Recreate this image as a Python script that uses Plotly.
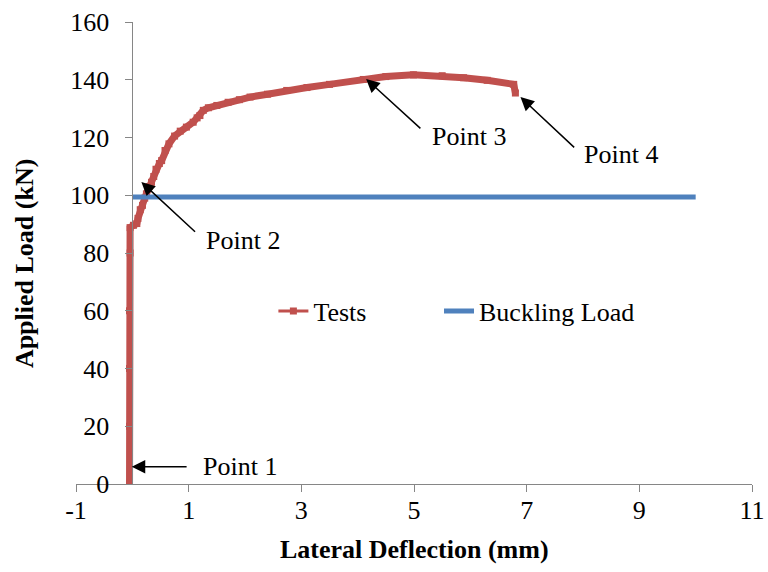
import plotly.graph_objects as go

# ---- data ----
test_x = [-0.05, -0.05, -0.05, -0.05, -0.04, -0.04, 0.02, 0.08, 0.10, 0.14, 0.18, 0.22,
          0.25, 0.30, 0.34, 0.38, 0.42, 0.48, 0.52, 0.58, 0.65, 0.75, 0.85, 0.96, 1.08,
          1.15, 1.20, 1.26, 1.35, 1.50, 1.70, 1.90, 2.09, 2.40, 2.74, 3.10, 3.50, 4.10,
          4.50, 4.99, 5.50, 5.88, 6.30, 6.77, 6.80]
test_y = [0, 20, 40, 60, 80, 88.8, 89.6, 90.2, 92.0, 95.0, 96.5, 99.0,
          100.5, 103.0, 104.5, 106.5, 109.0, 111.0, 112.0, 115.5, 117.8, 120.5, 122.2, 123.6, 125.3,
          126.8, 127.6, 129.4, 130.3, 131.1, 132.2, 133.1, 134.0, 135.0, 136.3, 137.3, 138.4, 140.1,
          141.1, 141.7, 141.4, 140.7, 139.8, 138.4, 135.4]

buck_x = [0, 10]
buck_y = [99.4, 99.4]

x_ticks = [-1, 1, 3, 5, 7, 9, 11]
x_tick_text = ["-1", "1", "3", "5", "7", "9", "11"]
y_ticks = [0, 20, 40, 60, 80, 100, 120, 140, 160]

# annotations: (label, tip_x, tip_y, tail_x, tail_y, text_x, text_y)
points = [
    ("Point 1", -0.01, 6.0, 0.99, 6.0, 1.21, 6.2),
    ("Point 2", 0.16, 104.6, 1.14, 86.9, 1.28, 84.4),
    ("Point 3", 4.15, 140.3, 5.14, 122.7, 5.28, 120.4),
    ("Point 4", 6.89, 134.0, 7.87, 116.1, 7.99, 114.1),
]

RED = "#C0504D"
BLUE = "#4F81BD"
AXC = "#868686"
FONT = "Times New Roman, Liberation Serif, serif"
FS = 26

fig = go.Figure()
# legend-only entry for Tests
fig.add_trace(go.Scatter(x=[None], y=[None], name="Tests", mode="lines+markers",
                         legend="legend",
                         line=dict(color=RED, width=3),
                         marker=dict(symbol="square", size=7, color=RED)))
fig.add_trace(go.Scatter(x=test_x, y=test_y, name="Tests", mode="lines+markers",
                         showlegend=False,
                         line=dict(color=RED, width=7),
                         marker=dict(symbol="square", size=7, color=RED)))
fig.add_trace(go.Scatter(x=buck_x, y=buck_y, name="Buckling Load", mode="lines",
                         legend="legend2",
                         line=dict(color=BLUE, width=5)))

ann = []
for lab, tx, ty, ax, ay, lx, ly in points:
    ann.append(dict(x=tx, y=ty, ax=ax, ay=ay, xref="x", yref="y", axref="x", ayref="y",
                    text="", showarrow=True, arrowhead=2, arrowsize=1.8, arrowwidth=1.5,
                    arrowcolor="black"))
    ann.append(dict(x=lx, y=ly, xref="x", yref="y", text=lab, showarrow=False,
                    xanchor="left", yanchor="middle",
                    font=dict(family=FONT, size=FS, color="black")))

ann.append(dict(x=0.5, y=-0.1427, xref="paper", yref="paper",
                text="<b>Lateral Deflection (mm)</b>", showarrow=False,
                xanchor="center", yanchor="middle",
                font=dict(family=FONT, size=FS, color="black")))
ann.append(dict(x=-0.077, y=0.478, xref="paper", yref="paper",
                text="<b>Applied Load (kN)</b>", showarrow=False, textangle=-90,
                xanchor="center", yanchor="middle",
                font=dict(family=FONT, size=FS, color="black")))

leg_common = dict(orientation="h", y=0.374, xanchor="left", yanchor="middle",
                  bgcolor="rgba(0,0,0,0)", borderwidth=0,
                  font=dict(family=FONT, size=FS, color="black"))

fig.update_layout(
    width=768, height=572,
    margin=dict(l=76, r=16, t=22, b=88, pad=0),
    paper_bgcolor="white", plot_bgcolor="white",
    font=dict(family=FONT, size=FS, color="black"),
    xaxis=dict(range=[-1, 11], tickvals=x_ticks, ticktext=x_tick_text,
               ticks="outside", ticklen=7, automargin=False,
               tickcolor=AXC, tickwidth=1, showline=True, linecolor=AXC, linewidth=1,
               showgrid=False, zeroline=False, ticklabelstandoff=-4,
               tickfont=dict(family=FONT, size=FS, color="black")),
    yaxis=dict(range=[0, 160], tickvals=y_ticks, ticks="outside", ticklen=7,
               automargin=False,
               tickcolor=AXC, tickwidth=1, showline=True, linecolor=AXC, linewidth=1,
               showgrid=False, zeroline=False, anchor="free", position=1/12,
               ticklabelstandoff=11,
               tickfont=dict(family=FONT, size=FS, color="black")),
    legend=dict(x=0.292, **leg_common),
    legend2=dict(x=0.537, **leg_common),
    annotations=ann,
    showlegend=True,
)

fig.write_html("out.html")
